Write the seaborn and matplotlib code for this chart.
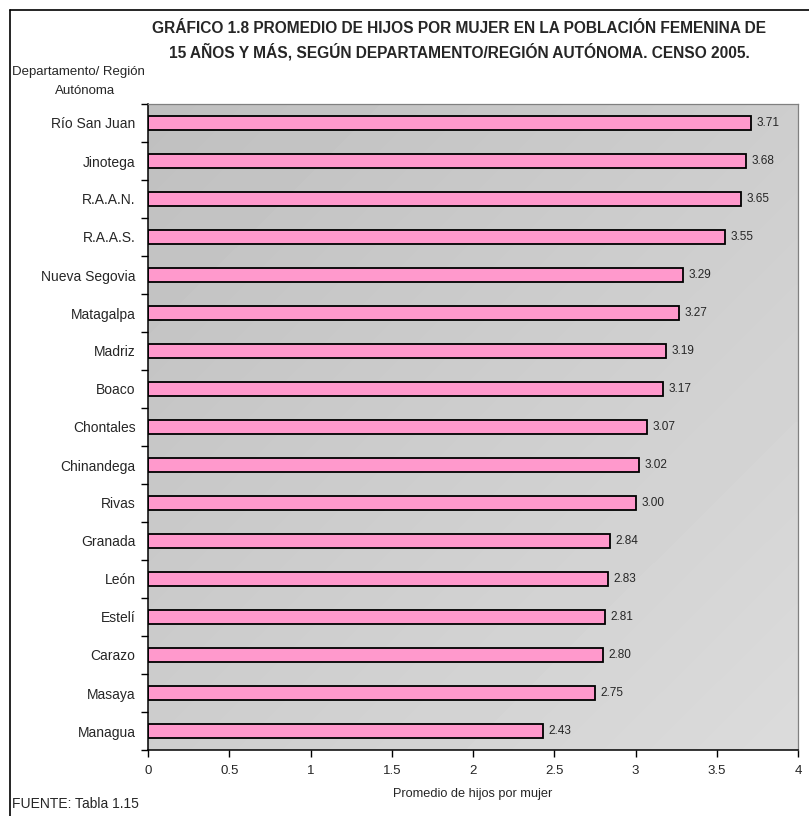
import numpy as np
import pandas as pd
import matplotlib
matplotlib.use("Agg")
import matplotlib.pyplot as plt
from matplotlib.lines import Line2D
import seaborn as sns

# datos del grafico
departamentos = [
    "Río San Juan", "Jinotega", "R.A.A.N.", "R.A.A.S.", "Nueva Segovia",
    "Matagalpa", "Madriz", "Boaco", "Chontales", "Chinandega", "Rivas",
    "Granada", "León", "Estelí", "Carazo", "Masaya", "Managua",
]
promedio_hijos = [
    3.71, 3.68, 3.65, 3.55, 3.29, 3.27, 3.19, 3.17, 3.07, 3.02, 3.00,
    2.84, 2.83, 2.81, 2.80, 2.75, 2.43,
]
ticks_x = [0, 0.5, 1, 1.5, 2, 2.5, 3, 3.5, 4]
etiquetas_x = ["0", "0.5", "1", "1.5", "2", "2.5", "3", "3.5", "4"]

titulo = ("GRÁFICO 1.8 PROMEDIO DE HIJOS POR MUJER EN LA POBLACIÓN FEMENINA DE\n"
          "15 AÑOS Y MÁS, SEGÚN DEPARTAMENTO/REGIÓN AUTÓNOMA. CENSO 2005.")

datos = pd.DataFrame({"departamento": departamentos, "promedio": promedio_hijos})

sns.set_theme(style="white")
plt.rcParams["font.family"] = ["Liberation Sans", "DejaVu Sans"]

W, H = 809, 816
fig = plt.figure(figsize=(W / 100, H / 100), dpi=100)
fig.patch.set_facecolor("white")

# marco de la figura (solo visible arriba e izquierda)
fig.add_artist(Line2D([10 / W, 10 / W], [0, 1 - 10 / H], color="black", lw=1.2))
fig.add_artist(Line2D([10 / W, 1], [1 - 10 / H, 1 - 10 / H], color="black", lw=1.2))

izq, der, arr, aba = 148, 798, 104, 750
ax = fig.add_axes([izq / W, 1 - aba / H, (der - izq) / W, (aba - arr) / H])
ax.set_facecolor("none")

# fondo degradado
n = 200
i, j = np.mgrid[0:n, 0:n] / (n - 1)
fondo = 0.75 + 0.11 * (i + j) / 2
ax.imshow(fondo, extent=[0, 1, 0, 1], transform=ax.transAxes, aspect="auto",
          cmap="gray", vmin=0, vmax=1, zorder=0, interpolation="bilinear")

sns.barplot(data=datos, x="promedio", y="departamento", orient="h",
            color="#FF99CC", saturation=1, edgecolor="black", linewidth=1.3,
            width=0.38, ax=ax, zorder=2)

for cont in ax.containers:
    ax.bar_label(cont, fmt="%.2f", padding=4, fontsize=8.5)

ax.set_xlim(0, 4)
ax.set_ylim(len(departamentos) - 0.5, -0.5)
ax.set_xticks(ticks_x)
ax.set_xticklabels(etiquetas_x, fontsize=9.5)
ax.set_yticks(range(len(departamentos)))
ax.set_yticklabels(departamentos, fontsize=10)
ax.set_yticks(np.arange(-0.5, len(departamentos), 1), minor=True)
ax.tick_params(axis="y", which="major", length=0, pad=9)
ax.tick_params(axis="y", which="minor", length=5, width=1, color="black", direction="out", left=True)
ax.tick_params(axis="x", which="major", length=5, width=1, color="black", direction="out", bottom=True, pad=6)
ax.set_xlabel("Promedio de hijos por mujer", fontsize=9.2, labelpad=8)
ax.set_ylabel("")

for lado in ["left", "bottom"]:
    ax.spines[lado].set_color("black")
    ax.spines[lado].set_linewidth(1.1)
for lado in ["top", "right"]:
    ax.spines[lado].set_color("#808080")
    ax.spines[lado].set_linewidth(0.9)

fig.text(459 / W, 1 - 41 / H, titulo, ha="center", va="center", fontsize=11.2,
         fontweight="bold", linespacing=1.45)
fig.text(12 / W, 1 - 72 / H, "Departamento/ Región", ha="left", va="center", fontsize=9.5)
fig.text(85 / W, 1 - 91 / H, "Autónoma", ha="center", va="center", fontsize=9.5)
fig.text(12 / W, 1 - 804 / H, "FUENTE: Tabla 1.15", ha="left", va="center", fontsize=10)

fig.savefig("out.png", dpi=100)
